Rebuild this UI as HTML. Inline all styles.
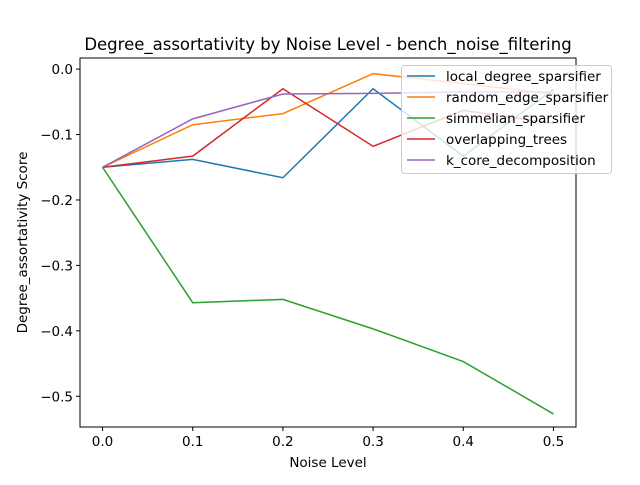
<!DOCTYPE html>
<html><head><meta charset="utf-8"><style>
body{margin:0;background:#fff}
svg text{font-family:"DejaVu Sans","Liberation Sans",sans-serif;fill:#000}
</style></head><body>
<svg id="chart" width="640" height="480">
<rect width="640" height="480" fill="#fff"/>
<g id="plot"></g>
</svg>
<script>
const categories=[0.0,0.1,0.2,0.3,0.4,0.5];
const seriesNames=["local_degree_sparsifier","random_edge_sparsifier","simmelian_sparsifier","overlapping_trees","k_core_decomposition"];
const colors=["#1f77b4","#ff7f0e","#2ca02c","#d62728","#9467bd"];
const localDegree=[-0.15,-0.138,-0.166,-0.030,-0.133,-0.031];
const randomEdge=[-0.15,-0.085,-0.068,-0.007,-0.022,-0.038];
const simmelian=[-0.15,-0.357,-0.352,-0.397,-0.447,-0.527];
const overlapping=[-0.15,-0.133,-0.030,-0.118,-0.063,-0.083];
const kcore=[-0.15,-0.076,-0.038,-0.037,-0.035,-0.035];
const xTicks=[0.0,0.1,0.2,0.3,0.4,0.5];
const yTicks=[0.0,-0.1,-0.2,-0.3,-0.4,-0.5];
const series=[localDegree,randomEdge,simmelian,overlapping,kcore];
const L=80,R=576,T=58,B=427;
const xMin=-0.025,xMax=0.525,yMin=-0.547,yMax=0.017;
const xs=v=>L+(v-xMin)/(xMax-xMin)*(R-L);
const ys=v=>B-(v-yMin)/(yMax-yMin)*(B-T);
const NS="http://www.w3.org/2000/svg";
const svg=document.getElementById('chart');
function mk(tag,attrs,parent){const e=document.createElementNS(NS,tag);for(const k in attrs)e.setAttribute(k,attrs[k]);(parent||svg).appendChild(e);return e;}
let t=mk('text',{x:(L+R)/2,y:50,'text-anchor':'middle','font-size':'16.5'});t.textContent='Degree_assortativity by Noise Level - bench_noise_filtering';


xTicks.forEach(v=>{const x=xs(v);
const l=mk('line',{x1:x,x2:x,y1:B,y2:B+4,stroke:'#000'});


const tx=mk('text',{x:x,y:B+19,'text-anchor':'middle','font-size':'13.5'});tx.textContent=v.toFixed(1);

});
yTicks.forEach(v=>{const y=ys(v);
const l=mk('line',{x1:L-4,x2:L,y1:y,y2:y,stroke:'#000'});


const tx=mk('text',{x:L-7,y:y+5,'text-anchor':'end','font-size':'13.5'});tx.textContent=(v===0?'0.0':'\u2212'+Math.abs(v).toFixed(1));

});
t=mk('text',{x:(L+R)/2,y:467,'text-anchor':'middle','font-size':'13.5'});t.textContent='Noise Level';


t=mk('text',{x:0,y:0,'text-anchor':'middle','font-size':'13.5',transform:`translate(27,${(T+B)/2}) rotate(-90)`});t.textContent='Degree_assortativity Score';


series.forEach((s,i)=>{const p=mk('polyline',{points:s.map((v,j)=>xs(categories[j])+','+ys(v)).join(' '),fill:'none',stroke:colors[i],'stroke-width':'1.5'});

});
const fr=mk('rect',{x:L,y:T,width:R-L,height:B-T,fill:'none',stroke:'#000','stroke-width':'1'});


const lg=mk('g',{});


mk('rect',{x:401.5,y:65.5,width:210,height:108,rx:3,fill:'#fff','fill-opacity':'0.8',stroke:'#ccc'},lg);
seriesNames.forEach((n,i)=>{const y=76+i*21;
mk('line',{x1:407,x2:435,y1:y,y2:y,stroke:colors[i],'stroke-width':'1.5'},lg);
const tx=mk('text',{x:446,y:y+5,'font-size':'13.5'},lg);tx.textContent=n;

});
</script>
</body></html>
